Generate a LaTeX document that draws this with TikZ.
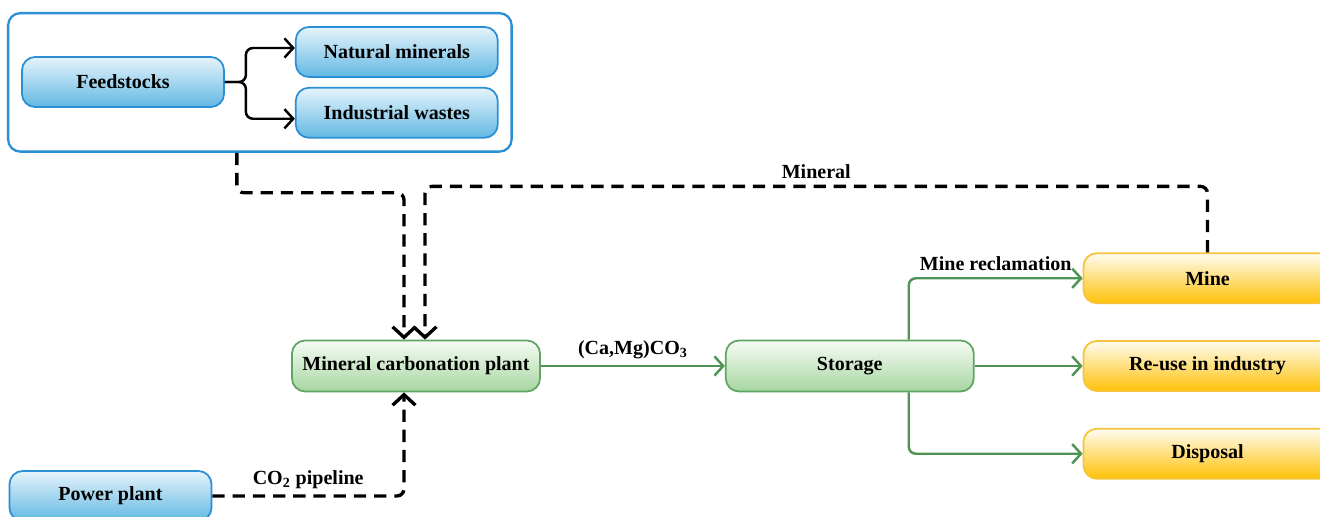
\documentclass[tikz,border=0pt]{standalone}
\usepackage{fontspec}
\setmainfont{Liberation Serif}
\usetikzlibrary{arrows.meta,positioning,fit,calc}
\definecolor{edgeblue}{HTML}{2B8FD6}
\definecolor{topblue}{HTML}{E6F4FC}
\definecolor{botblue}{HTML}{62B8E3}
\definecolor{edgegreen}{HTML}{5FA463}
\definecolor{topgreen}{HTML}{F7FCF5}
\definecolor{botgreen}{HTML}{A6D6A0}
\definecolor{edgeyellow}{HTML}{F7C33A}
\definecolor{topyellow}{HTML}{FFFDF2}
\definecolor{botyellow}{HTML}{FFC107}
\definecolor{flowgreen}{HTML}{4E9455}

\begin{document}
\begin{tikzpicture}[
  font=\fontsize{11.4}{13}\selectfont\bfseries,
  bluebox/.style={draw=edgeblue, line width=1pt, top color=topblue, bottom color=botblue, rounded corners=7.5pt, minimum width=4.04cm, minimum height=1.0cm, align=center},
  greenbox/.style={draw=edgegreen, line width=1pt, top color=topgreen, bottom color=botgreen, rounded corners=7.5pt, minimum width=4.96cm, minimum height=1.02cm, align=center},
  yellowbox/.style={draw=edgeyellow, line width=1pt, top color=topyellow, bottom color=botyellow, rounded corners=7.5pt, minimum width=4.96cm, minimum height=1.0cm, align=center},
  groupbox/.style={draw=edgeblue, line width=1.3pt, rounded corners=7pt, inner sep=0.26cm},
  blkarr/.style={-{Straight Barb[length=5pt,width=11pt]}, line width=1.4pt, rounded corners=4pt},
  grnarr/.style={-{Straight Barb[length=5pt,width=11pt]}, line width=1.4pt, color=flowgreen, rounded corners=4pt},
  dasharr/.style={-{Straight Barb[length=6pt,width=13pt]}, line width=1.9pt, dash pattern=on 7pt off 4.5pt, rounded corners=4pt}
]
\useasboundingbox (0,0) rectangle (26.4,-10.34);
% feedstocks group
\node[bluebox] (feed) at (2.46,-1.64) {Feedstocks};
\node[bluebox, right=1.4cm of feed, yshift=0.6cm] (nat) {Natural minerals};
\node[bluebox, below=0.18cm of nat] (ind) {Industrial wastes};
\node[groupbox, fit=(feed)(nat)(ind)] (grp) {};
% main chain
\node[greenbox] (plant) at (8.32,-7.32) {Mineral carbonation plant};
\node[greenbox, right=3.68cm of plant] (store) {Storage};
\node[yellowbox, right=2.16cm of store] (reuse) {Re-use in industry};
\node[yellowbox, above=0.72cm of reuse] (mine) {Mine};
\node[yellowbox, below=0.72cm of reuse] (disp) {Disposal};
\node[bluebox] (power) at (2.21,-9.92) {Power plant};
% connectors
\draw[blkarr] (feed.east) -- ++(0.42,0) |- ([yshift=0.08cm]nat.west);
\draw[blkarr] (feed.east) -- ++(0.42,0) |- ([yshift=-0.12cm]ind.west);
\draw[dasharr] ([xshift=-0.46cm]grp.south) -- ++(0,-0.8) -| ([xshift=-0.24cm]plant.north);
\draw[dasharr] (mine.north) -- ++(0,1.32) -| node[pos=0.25, above] {Mineral} ([xshift=0.18cm]plant.north);
\draw[dasharr] (power.east) -| node[pos=0.25, above] {CO\textsubscript{2} pipeline} ([xshift=-0.24cm]plant.south);
\draw[grnarr] (plant) -- node[above, text=black] {(Ca,Mg)CO\textsubscript{3}} (store);
\draw[grnarr] ([xshift=1.18cm]store.north) |- node[pos=0.75, above, text=black] {Mine reclamation} (mine.west);
\draw[grnarr] (store) -- (reuse);
\draw[grnarr] ([xshift=1.18cm]store.south) |- (disp.west);
\end{tikzpicture}
\end{document}
